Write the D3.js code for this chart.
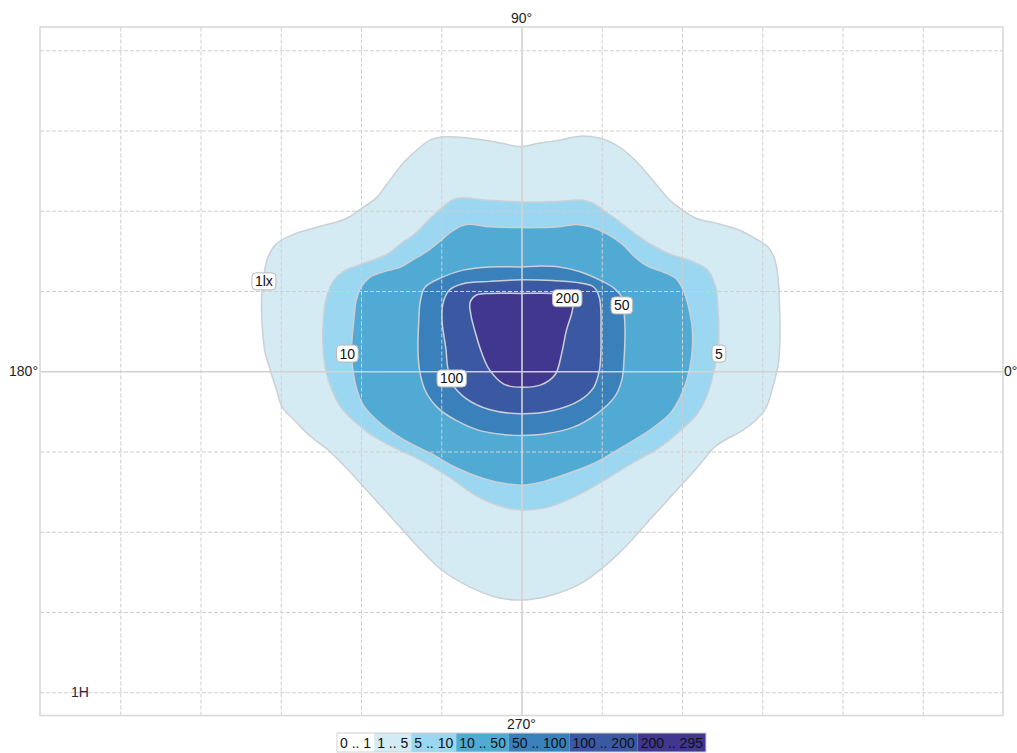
<!DOCTYPE html>
<html>
<head>
<meta charset="utf-8">
<script src="https://cdn.jsdelivr.net/npm/d3@7"></script>
<style>
  html, body { margin: 0; padding: 0; background: #ffffff; }
  svg { display: block; font-family: "Liberation Sans", Arial, sans-serif; }
</style>
</head>
<body>
<svg id="chart" width="1017" height="753"></svg>
<script>
// Isolux diagram: grid in mounting-height units, contours in lux.
const xTicks = [-5, -4, -3, -2, -1, 0, 1, 2, 3, 4, 5];
const yTicks = [-4, -3, -2, -1, 0, 1, 2, 3, 4];

const directionLabels = ["90°", "270°", "180°", "0°"];
const scaleLabel = "1H";

// Contour outlines, [x, y] in grid units
const contour1 = [
  [0, 2.80], [-0.39, 2.87], [-0.82, 2.92], [-1.00, 2.92], [-1.14, 2.88], [-1.29, 2.77],
  [-1.46, 2.61], [-1.67, 2.34], [-1.80, 2.17], [-2.02, 2.01], [-2.19, 1.90], [-2.53, 1.80],
  [-2.83, 1.71], [-3.05, 1.59], [-3.16, 1.42], [-3.22, 1.13], [-3.24, 0.88], [-3.23, 0.55],
  [-3.20, 0.26], [-3.13, 0.01], [-3.05, -0.24], [-2.98, -0.45], [-2.83, -0.61], [-2.62, -0.82],
  [-2.40, -0.99], [-2.15, -1.24], [-1.85, -1.57], [-1.55, -1.90], [-1.25, -2.23], [-0.99, -2.48],
  [-0.64, -2.69], [-0.30, -2.82], [0, -2.85], [0.34, -2.80], [0.73, -2.65], [1.07, -2.40],
  [1.33, -2.15], [1.59, -1.86], [1.89, -1.53], [2.19, -1.20], [2.40, -0.95], [2.53, -0.86],
  [2.75, -0.74], [2.92, -0.61], [3.05, -0.45], [3.13, -0.20], [3.20, 0.09], [3.22, 0.38],
  [3.22, 0.63], [3.20, 1.13], [3.16, 1.38], [3.07, 1.55], [2.92, 1.65], [2.71, 1.76],
  [2.45, 1.84], [2.19, 1.90], [2.02, 2.00], [1.85, 2.13], [1.67, 2.34], [1.50, 2.54],
  [1.33, 2.71], [1.16, 2.83], [0.99, 2.90], [0.73, 2.93], [0.47, 2.88], [0.21, 2.84]
];
const contour5 = [
  [0, 2.11], [-0.39, 2.13], [-0.82, 2.15], [-0.99, 2.04], [-1.16, 1.88], [-1.33, 1.71],
  [-1.50, 1.59], [-1.67, 1.46], [-1.98, 1.34], [-2.19, 1.26], [-2.34, 1.13], [-2.43, 0.92],
  [-2.47, 0.63], [-2.47, 0.26], [-2.43, -0.03], [-2.36, -0.24], [-2.25, -0.45], [-2.10, -0.61],
  [-1.89, -0.78], [-1.59, -0.95], [-1.25, -1.11], [-0.90, -1.32], [-0.60, -1.53], [-0.30, -1.67],
  [0, -1.73], [0.34, -1.69], [0.69, -1.55], [1.03, -1.36], [1.37, -1.15], [1.72, -0.95],
  [1.98, -0.74], [2.19, -0.53], [2.32, -0.28], [2.40, 0.01], [2.45, 0.26], [2.46, 0.51],
  [2.45, 0.76], [2.42, 1.05], [2.32, 1.26], [2.10, 1.38], [1.85, 1.46], [1.63, 1.57],
  [1.42, 1.71], [1.20, 1.88], [1.03, 2.00], [0.90, 2.09], [0.77, 2.13], [0.47, 2.12], [0.21, 2.11]
];
const contour10 = [
  [0, 1.79], [-0.39, 1.80], [-0.69, 1.83], [-0.86, 1.75], [-1.03, 1.61], [-1.20, 1.48],
  [-1.37, 1.38], [-1.50, 1.30], [-1.72, 1.24], [-1.89, 1.17], [-2.00, 1.05], [-2.06, 0.88],
  [-2.09, 0.63], [-2.12, 0.26], [-2.10, 0.01], [-2.06, -0.20], [-1.98, -0.41], [-1.76, -0.65],
  [-1.46, -0.86], [-1.12, -1.03], [-0.82, -1.20], [-0.47, -1.34], [-0.21, -1.40], [0, -1.42],
  [0.26, -1.38], [0.56, -1.28], [0.90, -1.15], [1.25, -0.95], [1.59, -0.74], [1.85, -0.53],
  [1.98, -0.32], [2.06, -0.11], [2.12, 0.18], [2.13, 0.51], [2.10, 0.72], [2.02, 1.00],
  [1.93, 1.15], [1.76, 1.24], [1.59, 1.30], [1.42, 1.42], [1.25, 1.59], [1.07, 1.71],
  [0.86, 1.80], [0.69, 1.83], [0.47, 1.80], [0.21, 1.79]
];
const contour50 = [
  [0, 1.30], [-0.39, 1.30], [-0.73, 1.26], [-0.99, 1.17], [-1.20, 1.05], [-1.26, 0.88],
  [-1.28, 0.63], [-1.29, 0.26], [-1.27, 0.01], [-1.20, -0.24], [-1.05, -0.45], [-0.82, -0.61],
  [-0.52, -0.74], [-0.21, -0.79], [0, -0.80], [0.30, -0.78], [0.64, -0.70], [0.94, -0.53],
  [1.16, -0.32], [1.25, -0.11], [1.28, 0.18], [1.29, 0.51], [1.28, 0.72], [1.25, 0.92],
  [1.16, 1.03], [0.99, 1.13], [0.73, 1.24], [0.47, 1.30], [0.21, 1.31]
];
const contour100 = [
  [0, 1.14], [-0.39, 1.12], [-0.73, 1.09], [-0.90, 1.01], [-0.98, 0.84], [-0.99, 0.63],
  [-0.94, 0.26], [-0.92, 0.05], [-0.86, -0.16], [-0.69, -0.34], [-0.39, -0.48], [0, -0.53],
  [0.39, -0.49], [0.73, -0.36], [0.90, -0.20], [0.97, 0.01], [0.99, 0.26], [0.99, 0.51],
  [0.99, 0.72], [0.97, 0.92], [0.90, 1.05], [0.73, 1.10], [0.39, 1.13]
];
const contour200 = [
  [0, 0.97], [-0.39, 0.97], [-0.56, 0.95], [-0.64, 0.86], [-0.63, 0.70], [-0.58, 0.50],
  [-0.50, 0.24], [-0.40, 0.02], [-0.22, -0.16], [0, -0.20], [0.24, -0.17], [0.42, -0.04],
  [0.50, 0.22], [0.56, 0.51], [0.63, 0.74], [0.64, 0.88], [0.55, 0.96], [0.39, 0.97]
];

const contours = [contour1, contour5, contour10, contour50, contour100, contour200];

// Level labels placed on their lines, [x, y] in grid units
const levelLabels = ["1lx", "5", "10", "50", "100", "200"];
const levelLabelPositions = [
  [-3.21, 1.12], [2.46, 0.22], [-2.17, 0.22], [1.25, 0.82], [-0.87, -0.09], [0.57, 0.91]
];

// Legend bands
const bandLabels = ["0 .. 1", "1 .. 5", "5 .. 10", "10 .. 50", "50 .. 100", "100 .. 200", "200 .. 295"];
const bandColors = ["#ffffff", "#d4ebf3", "#9bd7f0", "#51aad3", "#3a80ba", "#3b59a3", "#41378e"];

const svg = d3.select("#chart");
const W = 1017, H = 753;
const plot = { left: 40, right: 1003, top: 27, bottom: 715.5 };

const x = d3.scaleLinear().domain([-6, 6]).range([plot.left, plot.right]);
const y = d3.scaleLinear().domain([-4.29, 4.29]).range([plot.bottom, plot.top]);

svg.append("rect").attr("width", W).attr("height", H).attr("fill", "#ffffff");

// Filled contour bands: each outline filled with the band above its level
const line = d3.line()
  .x(d => x(d[0]))
  .y(d => y(d[1]))
  .curve(d3.curveCatmullRomClosed.alpha(0.5));

svg.append("g").selectAll("path")
  .data(contours)
  .join("path")
  .attr("d", d => line(d))
  .attr("fill", (d, i) => bandColors[i + 1])
  .attr("stroke", "#cbd0d7")
  .attr("stroke-width", 1.5)
  .attr("stroke-linejoin", "round");

// Dashed grid
const gx = svg.append("g")
  .attr("transform", `translate(0,${plot.bottom})`)
  .call(d3.axisBottom(x).tickValues(xTicks.filter(v => v !== 0))
    .tickSize(-(plot.bottom - plot.top)).tickFormat(""));
const gy = svg.append("g")
  .attr("transform", `translate(${plot.left},0)`)
  .call(d3.axisLeft(y).tickValues(yTicks.filter(v => v !== 0))
    .tickSize(-(plot.right - plot.left)).tickFormat(""));
[gx, gy].forEach(g => {
  g.select(".domain").remove();
  g.selectAll(".tick line")
    .attr("stroke", "#cfcfcf")
    .attr("stroke-width", 1)
    .attr("stroke-dasharray", "4,2");
});

// Solid centre axes
const cx = svg.append("g")
  .attr("transform", `translate(0,${plot.bottom})`)
  .call(d3.axisBottom(x).tickValues([0]).tickSize(-(plot.bottom - plot.top)).tickFormat(""));
const cy = svg.append("g")
  .attr("transform", `translate(${plot.left},0)`)
  .call(d3.axisLeft(y).tickValues([0]).tickSize(-(plot.right - plot.left)).tickFormat(""));
[cx, cy].forEach(g => {
  g.select(".domain").remove();
  g.selectAll(".tick line").attr("stroke", "#d2d2d2").attr("stroke-width", 1.6);
});

// Plot frame
svg.append("rect")
  .attr("x", plot.left).attr("y", plot.top)
  .attr("width", plot.right - plot.left).attr("height", plot.bottom - plot.top)
  .attr("fill", "none").attr("stroke", "#d9d9d9").attr("stroke-width", 1.6);

// Level labels
const lab = svg.append("g").selectAll("g")
  .data(levelLabels)
  .join("g")
  .attr("transform", (d, i) => `translate(${x(levelLabelPositions[i][0])},${y(levelLabelPositions[i][1])})`);
lab.append("rect").attr("class", "bg");
lab.append("text")
  .attr("text-anchor", "middle")
  .attr("dominant-baseline", "central")
  .attr("font-size", 14)
  .attr("fill", "#111")
  .text(d => d);
lab.each(function () {
  const g = d3.select(this);
  const w = g.select("text").node().getComputedTextLength() + 6;
  g.select("rect.bg")
    .attr("x", -w / 2).attr("y", -8.5).attr("width", w).attr("height", 17)
    .attr("rx", 4).attr("fill", "#ffffff")
    .attr("stroke", "#b9b9b9").attr("stroke-width", 1);
});

// Direction labels
const midX = x(0), midY = y(0);
const dirPos = [
  { x: midX, y: 18, anchor: "middle" },
  { x: midX, y: 723.5, anchor: "middle" },
  { x: plot.left - 2, y: midY, anchor: "end" },
  { x: plot.right + 1, y: midY, anchor: "start" }
];
svg.append("g").selectAll("text")
  .data(directionLabels)
  .join("text")
  .attr("x", (d, i) => dirPos[i].x)
  .attr("y", (d, i) => dirPos[i].y)
  .attr("text-anchor", (d, i) => dirPos[i].anchor)
  .attr("dominant-baseline", "central")
  .attr("font-size", 14)
  .attr("fill", "#222")
  .text(d => d);

svg.append("text")
  .attr("x", 71).attr("y", y(-4))
  .attr("dominant-baseline", "central")
  .attr("font-size", 14)
  .attr("fill", "#2a2440")
  .text(scaleLabel);

// Legend
const legend = svg.append("g").attr("transform", "translate(0,733)");
const cells = legend.selectAll("g").data(bandLabels).join("g");
cells.append("rect").attr("class", "sw");
cells.append("text")
  .attr("dominant-baseline", "central")
  .attr("y", 9.5)
  .attr("font-size", 14)
  .attr("fill", "#111")
  .text(d => d);
const widths = [];
cells.each(function () {
  widths.push(d3.select(this).select("text").node().getComputedTextLength() + 6);
});
const total = d3.sum(widths);
let cursor = midX - total / 2;
cells.each(function (d, i) {
  const g = d3.select(this).attr("transform", `translate(${cursor},0)`);
  g.select("rect.sw").attr("width", widths[i]).attr("height", 19)
    .attr("fill", bandColors[i]);
  g.select("text").attr("x", 3);
  cursor += widths[i];
});
legend.append("rect")
  .attr("x", midX - total / 2).attr("y", 0)
  .attr("width", total).attr("height", 19)
  .attr("fill", "none").attr("stroke", "#cfcfcf").attr("stroke-width", 1);
</script>
</body>
</html>
